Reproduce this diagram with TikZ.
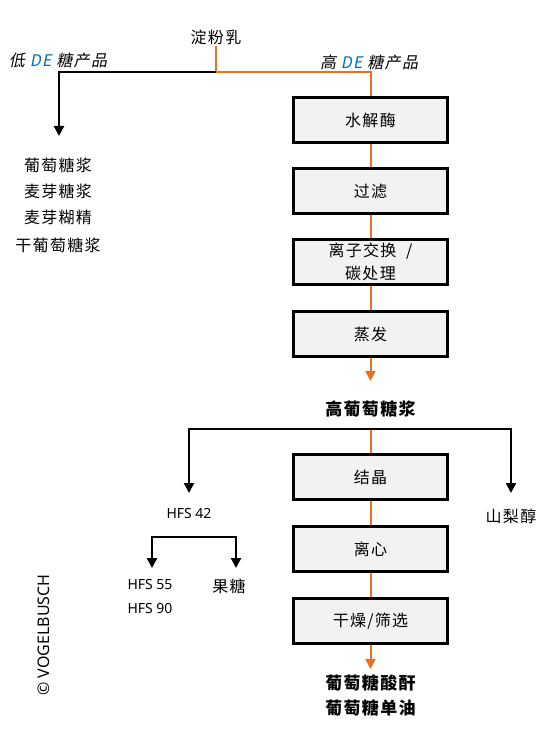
\documentclass[tikz,border=0pt]{standalone}
\usepackage{fontspec}
\usetikzlibrary{arrows.meta, positioning}
\newfontfamily\cjk[LetterSpace=8]{Noto Sans CJK SC}
\newfontfamily\cjkit[LetterSpace=8, FakeSlant=0.2]{Noto Sans CJK SC}
\newfontfamily\lat{Noto Sans}
\definecolor{flow}{RGB}{237, 112, 34}
\definecolor{boxgray}{RGB}{242, 242, 242}
\definecolor{deblue}{RGB}{0, 112, 192}

\begin{document}
\begin{tikzpicture}[x=1pt, y=-1pt,
  proc/.style={draw=black, line width=2.6pt, fill=boxgray, minimum width=154pt, minimum height=45pt, font=\cjk\fontsize{16}{20}\selectfont, align=center},
  label/.style={font=\cjk\fontsize{16}{20}\selectfont, inner sep=1pt},
  prod/.style={font=\cjk\bfseries\fontsize{17}{20}\selectfont, inner sep=1pt},
  hfs/.style={font=\lat\fontsize{14}{16}\selectfont, inner sep=1pt},
  orange/.style={draw=flow, line width=2pt},
  blk/.style={draw=black, line width=2.2pt},
  tip/.style={-{Triangle[length=10pt, width=10pt]}}]
  \useasboundingbox (0,0) rectangle (546,746);

  % starch milk and the two branches
  \node[label] (milk) at (216,37) {淀粉乳};
  \coordinate (split) at (216,72);
  \coordinate (lowend) at (59,72);
  \coordinate (lowtip) at (59,136);
  \coordinate (highend) at (370.5,72);
  \node[label, font=\cjkit\fontsize{16}{20}\selectfont] (lowde) at (58,60) {低 \textcolor{deblue}{DE} 糖产品};
  \node[label, font=\cjkit\fontsize{16}{20}\selectfont] (highde) at (369,62) {高 \textcolor{deblue}{DE} 糖产品};

  \node[label] (glu) at (58,165) {葡萄糖浆};
  \node[label] (mal) at (58,191) {麦芽糖浆};
  \node[label] (dex) at (58,218) {麦芽糊精};
  \node[label] (dry) at (58,245) {干葡萄糖浆};

  % main line
  \node[proc] (enzyme) at (370.5,120) {水解酶};
  \node[proc] (filter) at (370.5,191) {过滤};
  \node[proc, font=\cjk\fontsize{16}{23}\selectfont] (ion) at (370.5,262) {离子交换\ \ /\\碳处理};
  \node[proc] (evap) at (370.5,334) {蒸发};
  \coordinate (evaptip) at (370.5,381);
  \node[prod] (hfcs) at (370.5,409) {高葡萄糖浆};

  \coordinate (bar) at (370.5,429);
  \coordinate (barL) at (189,429);
  \coordinate (barR) at (511,429);
  \coordinate (tipL) at (189,493);
  \coordinate (tipR) at (511,493);
  \node[hfs] (hfs42) at (189,513) {HFS 42};
  \node[label] (sorb) at (511,516) {山梨醇};

  \node[proc] (cryst) at (370.5,477) {结晶};
  \node[proc] (centri) at (370.5,549) {离心};
  \node[proc] (drysieve) at (370.5,621) {干燥/筛选};
  \coordinate (drytip) at (370.5,669);
  \node[prod] (anhyd) at (370.5,683) {葡萄糖酸酐};
  \node[prod] (mono) at (370.5,708) {葡萄糖单油};

  % HFS 42 split
  \coordinate (subL) at (152,537);
  \coordinate (subR) at (236,537);
  \coordinate (subtipL) at (152,568);
  \coordinate (subtipR) at (236,568);
  \node[hfs] (hfs55) at (150,584) {HFS 55};
  \node[hfs] (hfs90) at (150,608) {HFS 90};
  \node[label] (fruc) at (229,586) {果糖};

  \node[font=\lat\fontsize{16}{18}\selectfont, rotate=90] (copy) at (44,635) {© VOGELBUSCH};

  % connectors
  \draw[orange] (milk.south) -- (split);
  \draw[orange] (split) -- (highend) -- (enzyme.north);
  \draw[blk, tip] (split) -- (lowend) -- (lowtip);
  \draw[orange] (enzyme) -- (filter);
  \draw[orange] (filter) -- (ion);
  \draw[orange] (ion) -- (evap);
  \draw[orange, tip] (evap) -- (evaptip);
  \draw[orange] (bar) -- (cryst);
  \draw[blk, tip] (bar) -- (barL) -- (tipL);
  \draw[blk, tip] (bar) -- (barR) -- (tipR);
  \draw[orange] (cryst) -- (centri);
  \draw[orange] (centri) -- (drysieve);
  \draw[orange, tip] (drysieve) -- (drytip);
  \draw[blk, tip] (subR) -- (subL) -- (subtipL);
  \draw[blk, tip] (subL) -- (subR) -- (subtipR);
\end{tikzpicture}
\end{document}
